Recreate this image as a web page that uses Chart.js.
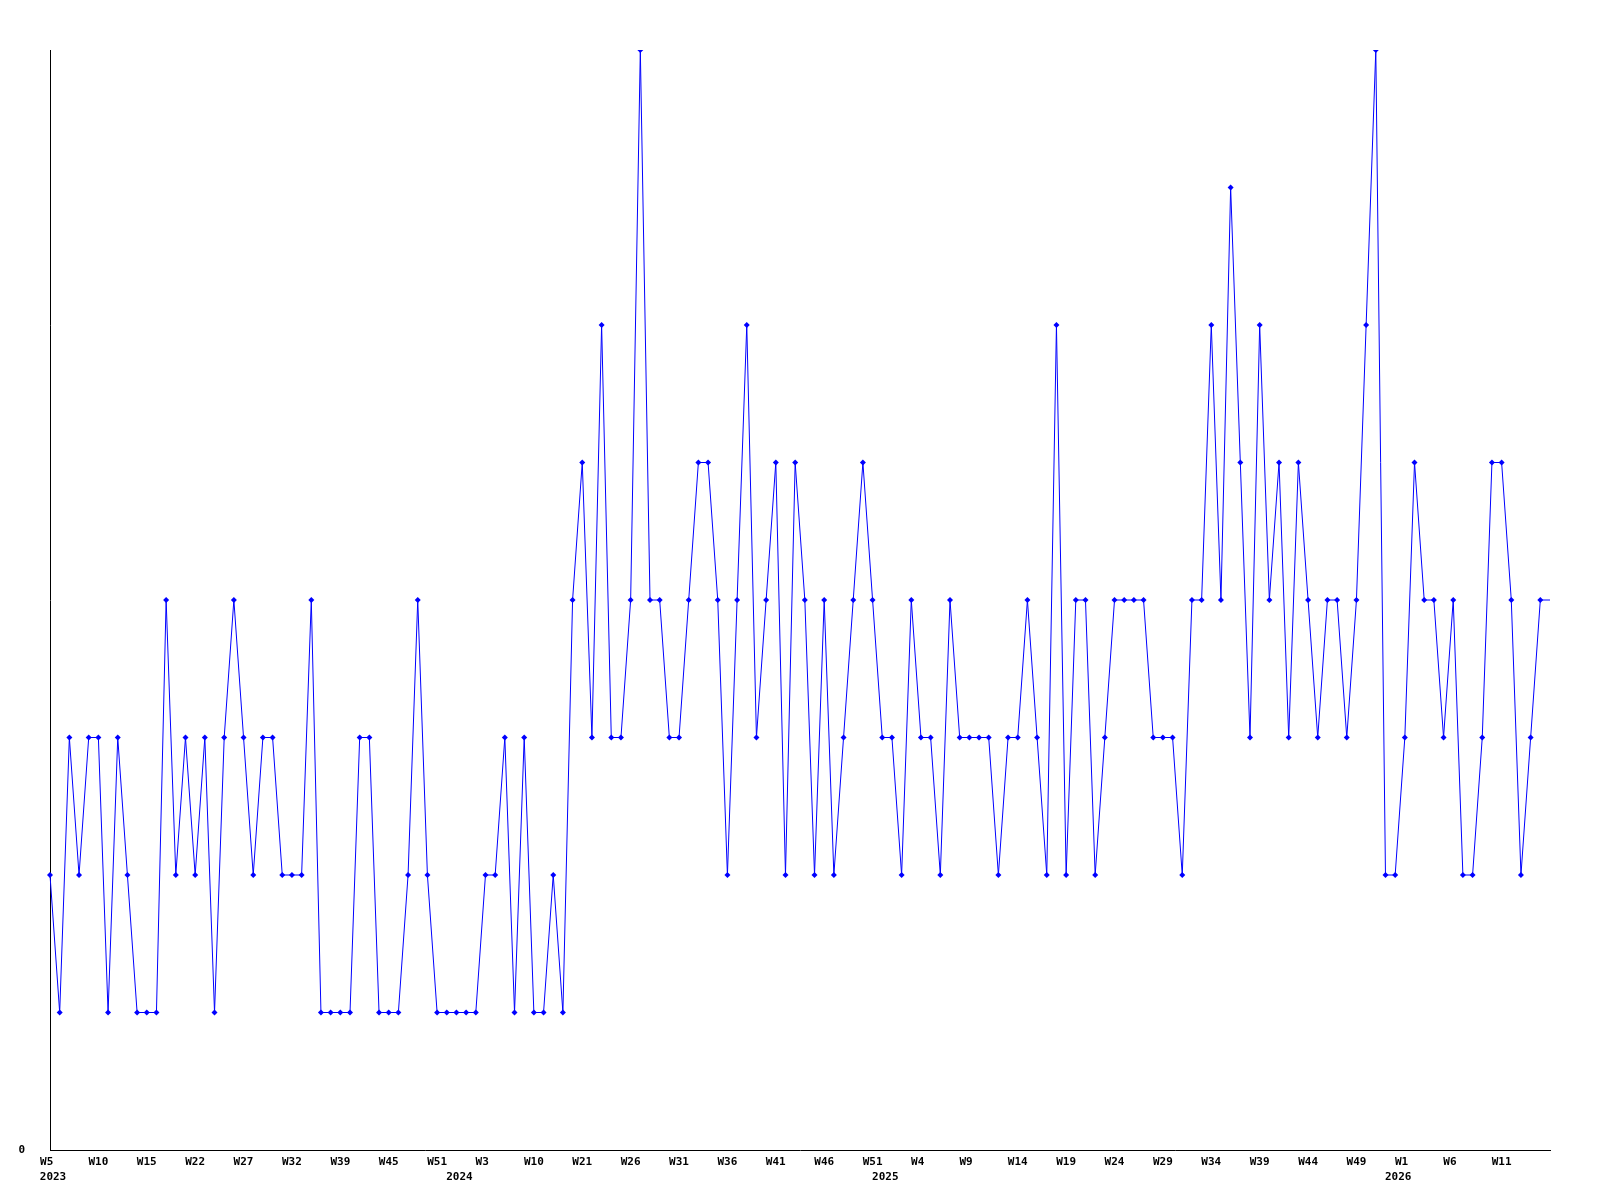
<!DOCTYPE html>
<html>
<head>
<meta charset="utf-8">
<title>Weekly count</title>
<script src="https://cdn.jsdelivr.net/npm/chart.js@4.4.1/dist/chart.umd.min.js"></script>
<style>
    html, body { margin: 0; padding: 0; background: #ffffff; }
    #wrap { width: 1600px; height: 1200px; }
</style>
</head>
<body>
<div id="wrap"><canvas id="weeklyChart" width="1600" height="1200"></canvas></div>
<script>
// one value per week, 2023 W5 .. 2026 W16
const counts = [
    2, 1, 3, 2, 3, 3, 1, 3, 2, 1,
    1, 1, 4, 2, 3, 2, 3, 1, 3, 4,
    3, 2, 3, 3, 2, 2, 2, 4, 1, 1,
    1, 1, 3, 3, 1, 1, 1, 2, 4, 2,
    1, 1, 1, 1, 1, 2, 2, 3, 1, 3,
    1, 1, 2, 1, 4, 5, 3, 6, 3, 3,
    4, 8, 4, 4, 3, 3, 4, 5, 5, 4,
    2, 4, 6, 3, 4, 5, 2, 5, 4, 2,
    4, 2, 3, 4, 5, 4, 3, 3, 2, 4,
    3, 3, 2, 4, 3, 3, 3, 3, 2, 3,
    3, 4, 3, 2, 6, 2, 4, 4, 2, 3,
    4, 4, 4, 4, 3, 3, 3, 2, 4, 4,
    6, 4, 7, 5, 3, 6, 4, 5, 3, 5,
    4, 3, 4, 4, 3, 4, 6, 8, 2, 2,
    3, 5, 4, 4, 3, 4, 2, 2, 3, 5,
    5, 4, 2, 3, 4, 4
];

// a week label is printed under every 5th point
const weekTicks = ['W5', 'W10', 'W15', 'W22', 'W27', 'W32', 'W39', 'W45', 'W51',
    'W3', 'W10', 'W21', 'W26', 'W31', 'W36', 'W41', 'W46', 'W51',
    'W4', 'W9', 'W14', 'W19', 'W24', 'W29', 'W34', 'W39', 'W44', 'W49',
    'W1', 'W6', 'W11'];
const tickEvery = 5;

// years and the point where each one starts
const years = ['2023', '2024', '2025', '2026'];
const yearStart = [0, 42, 86, 139];

const weeks = counts.map((v, i) => i);

const axisFont = { family: 'DejaVu Sans Mono', size: 11, weight: 'bold' };
const lastIndex = counts.length - 1;

function weekLabel(i) {
    if (i % tickEvery !== 0) return null;
    const w = weekTicks[i / tickEvery];
    // labels are printed 3 characters wide
    return w ? w.padEnd(3) : null;
}

const ctx = document.getElementById('weeklyChart').getContext('2d');
const weeklyChart = new Chart(ctx, {
    type: 'line',
    data: {
        labels: weeks,
        datasets: [{
            data: counts,
            borderColor: '#0000ff',
            borderWidth: 1,
            backgroundColor: '#0000ff',
            pointBackgroundColor: '#0000ff',
            pointBorderWidth: 0,
            pointStyle: 'rectRot',
            pointRadius: c => c.dataIndex === lastIndex ? 0 : 3,
            tension: 0,
            fill: false
        }]
    },
    options: {
        responsive: false,
        animation: false,
        devicePixelRatio: 1,
        layout: { padding: { top: 50, right: 50, bottom: 10, left: 0 } },
        plugins: {
            legend: { display: false },
            tooltip: { enabled: false }
        },
        scales: {
            x: {
                type: 'category',
                offset: false,
                grid: { display: false, drawTicks: false },
                border: { display: true, color: '#000000', width: 1 },
                afterFit: s => { s.height = 16; },
                ticks: {
                    autoSkip: false,
                    maxRotation: 0,
                    minRotation: 0,
                    padding: 6,
                    color: '#000000',
                    font: axisFont,
                    callback: (v, i) => weekLabel(i)
                }
            },
            x2: {
                type: 'category',
                position: 'bottom',
                offset: false,
                grid: { display: false, drawTicks: false },
                border: { display: false },
                afterFit: s => { s.height = 24; },
                ticks: {
                    autoSkip: false,
                    maxRotation: 0,
                    minRotation: 0,
                    padding: 5,
                    labelOffset: 3,
                    color: '#000000',
                    font: axisFont,
                    callback: (v, i) => {
                        const k = yearStart.indexOf(i);
                        return k >= 0 ? years[k] : null;
                    }
                }
            },
            y: {
                min: 0,
                max: 8,
                grid: { display: false, drawTicks: false },
                border: { display: true, color: '#000000', width: 1 },
                afterFit: s => { s.width = 50; },
                afterBuildTicks: s => { s.ticks = [{ value: 0 }]; },
                ticks: {
                    padding: 25,
                    color: '#000000',
                    font: axisFont
                }
            }
        }
    }
});
</script>
</body>
</html>
